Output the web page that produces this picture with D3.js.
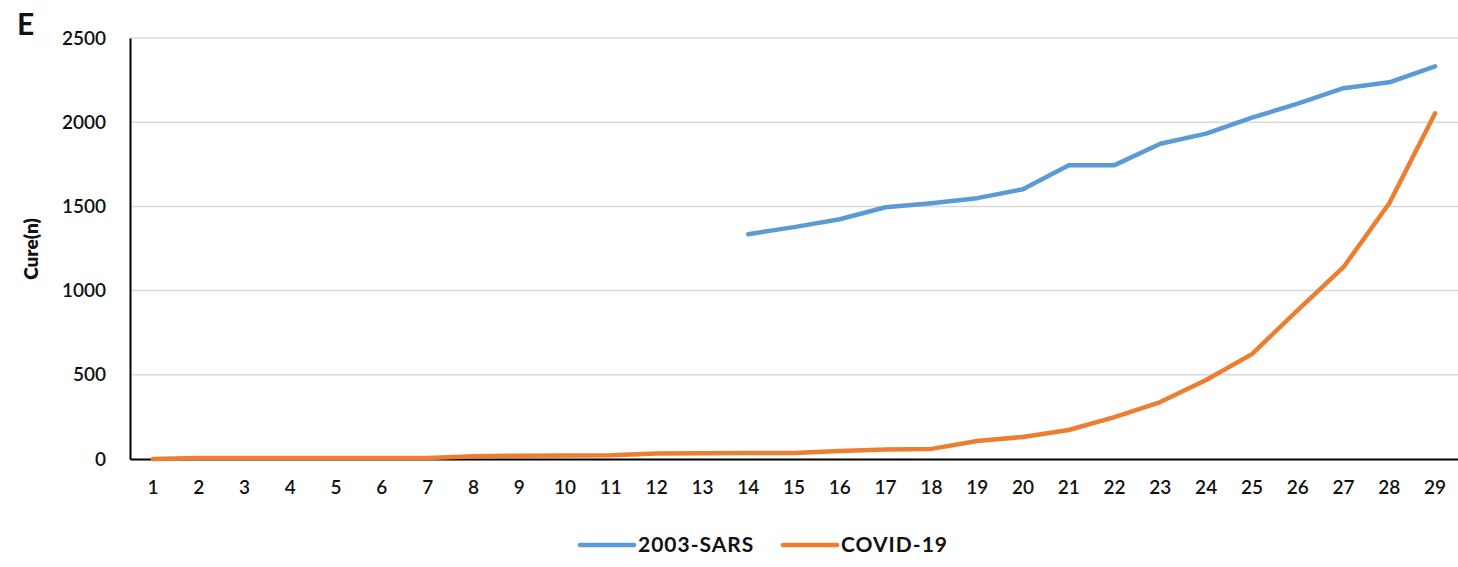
<!DOCTYPE html>
<html>
<head>
<meta charset="utf-8">
<script src="https://cdn.jsdelivr.net/npm/d3@7"></script>
<style>
  html, body { margin: 0; padding: 0; background: #fff; }
  svg { display: block; }
  text { font-family: Lato, "Open Sans", sans-serif; }
</style>
</head>
<body>
<svg id="chart" width="1458" height="567"></svg>
<script>
const days = d3.range(1, 30).map(String);
const sarsDays = d3.range(14, 30).map(String);
const sarsValues = [1335, 1377, 1424, 1495, 1519, 1549, 1602, 1745, 1745, 1872, 1932, 2027, 2110, 2202, 2237, 2332];
const covidValues = [0, 6, 6, 6, 6, 6, 6, 17, 20, 21, 23, 33, 34, 35, 36, 47, 57, 60, 107, 131, 172, 249, 338, 469, 623, 884, 1139, 1519, 2053];
const yTicks = [0, 500, 1000, 1500, 2000, 2500];
const seriesNames = ["2003-SARS", "COVID-19"];
const colors = ["#5B9BD5", "#ED7D31"];

const svg = d3.select("#chart");
const m = { left: 130, right: 1458, top: 38, bottom: 459 };

const x = d3.scaleBand().domain(days).range([m.left, m.right]);
const y = d3.scaleLinear().domain([0, 2500]).range([m.bottom, m.top]);
const cx = d => x(d) + x.bandwidth() / 2;

// gridlines
svg.append("g").selectAll("line").data(yTicks.filter(t => t > 0)).join("line")
  .attr("x1", m.left).attr("x2", m.right)
  .attr("y1", d => y(d)).attr("y2", d => y(d))
  .attr("stroke", "#d9d9d9").attr("stroke-width", 1.5);

// y axis
const yAxis = svg.append("g").attr("transform", `translate(${m.left},0)`)
  .call(d3.axisLeft(y).tickValues(yTicks).tickFormat(d3.format("d")).tickSize(0).tickPadding(24));
yAxis.select(".domain").attr("stroke", "#000").attr("stroke-width", 2);
yAxis.selectAll("text").attr("font-size", 19).attr("font-weight", 600).attr("fill", "#111");

// x axis
const xAxis = svg.append("g").attr("transform", `translate(0,${m.bottom})`)
  .call(d3.axisBottom(x).tickSize(0).tickPadding(22));
xAxis.select(".domain").attr("stroke", "#000").attr("stroke-width", 2);
xAxis.selectAll("text").attr("font-size", 19).attr("font-weight", 600).attr("fill", "#111");

// lines
const line = d3.line().x(d => cx(d[0])).y(d => y(d[1]));
svg.append("path")
  .datum(d3.zip(sarsDays, sarsValues))
  .attr("d", line).attr("fill", "none")
  .attr("stroke", colors[0]).attr("stroke-width", 4.5)
  .attr("stroke-linejoin", "round").attr("stroke-linecap", "round");
svg.append("path")
  .datum(d3.zip(days, covidValues))
  .attr("d", line).attr("fill", "none")
  .attr("stroke", colors[1]).attr("stroke-width", 4.5)
  .attr("stroke-linejoin", "round").attr("stroke-linecap", "round");

// y-axis title
svg.append("text")
  .attr("transform", "translate(38,249) rotate(-90)")
  .attr("text-anchor", "middle")
  .attr("font-size", 19).attr("font-weight", 800).attr("fill", "#111")
  .text("Cure(n)");

// panel letter
svg.append("text")
  .attr("x", 17).attr("y", 35)
  .attr("font-size", 30).attr("font-weight", 700).attr("fill", "#111")
  .text("E");

// legend
const legendPos = [580, 783];
seriesNames.forEach((name, i) => {
  const g = svg.append("g").attr("transform", `translate(${legendPos[i]},545)`);
  g.append("line").attr("x1", 0).attr("x2", 54).attr("y1", 0).attr("y2", 0)
    .attr("stroke", colors[i]).attr("stroke-width", 4.5).attr("stroke-linecap", "round");
  g.append("text").attr("x", 58).attr("y", 7)
    .attr("font-size", 21).attr("font-weight", 700).attr("fill", "#111")
    .attr("letter-spacing", 1)
    .text(name);
});
</script>
</body>
</html>
